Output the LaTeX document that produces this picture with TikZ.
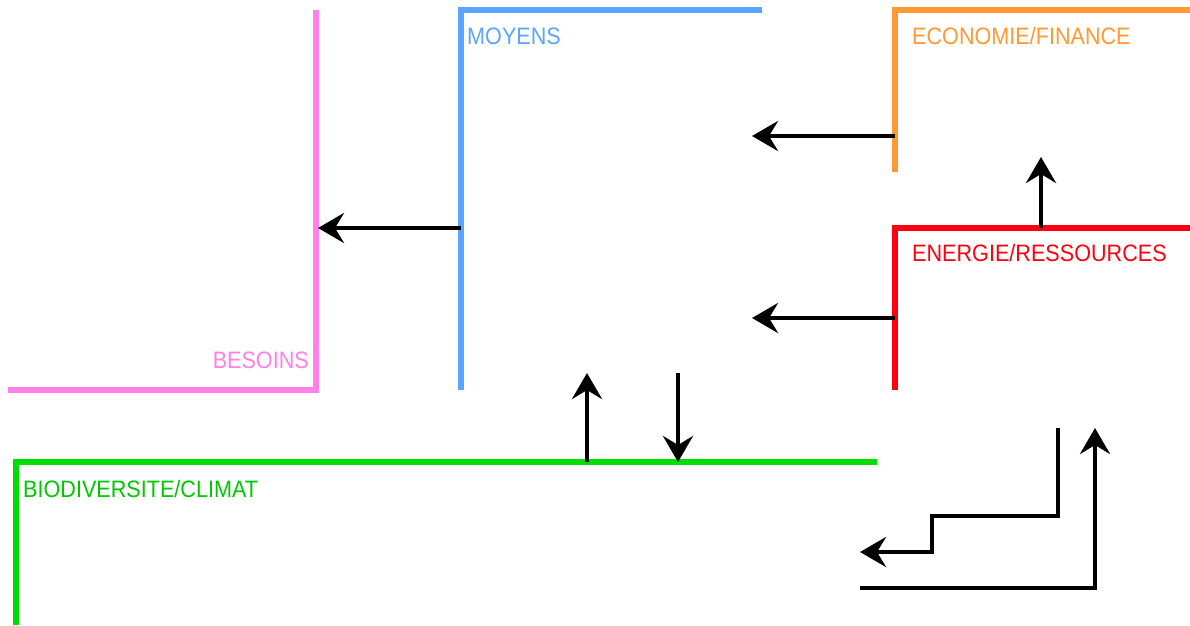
\documentclass[tikz,border=0pt]{standalone}
\usepackage{fontspec}
\setmainfont{Liberation Sans}
\usetikzlibrary{arrows.meta}
\definecolor{cpink}{HTML}{FF80E8}
\definecolor{cblue}{HTML}{5AA5FF}
\definecolor{corange}{HTML}{FF9933}
\definecolor{cred}{HTML}{FF0010}
\definecolor{cgreen}{HTML}{00DD00}
\newcommand{\tallbox}[1]{\scalebox{1}[1.1]{#1}}
\tikzset{
  bracket/.style={line width=6.5pt, line join=miter, line cap=butt},
  flow/.style={line width=4.4pt, black, line join=miter, -{Stealth[length=26pt,width=30pt,inset=9pt]}},
  lbl/.style={inner sep=0pt, font=\fontsize{21.6pt}{24pt}\selectfont}
}
\begin{document}
\begin{tikzpicture}[x=1pt,y=-1pt]
\useasboundingbox (0,0) rectangle (1190,625);
% coordinates
\coordinate (pinkTop) at (316,10);
\coordinate (pinkCorner) at (316,390);
\coordinate (pinkEnd) at (8,390);
\coordinate (blueBot) at (461,390);
\coordinate (blueCorner) at (461,10);
\coordinate (blueEnd) at (762,10);
\coordinate (orBot) at (895,172);
\coordinate (orCorner) at (895,10);
\coordinate (orEnd) at (1190,10);
\coordinate (redBot) at (895,390);
\coordinate (redCorner) at (895,228);
\coordinate (redEnd) at (1190,228);
\coordinate (grEnd) at (877,462);
\coordinate (grCorner) at (16,462);
\coordinate (grBot) at (16,625);
% brackets
\draw[bracket, cpink] (pinkTop) -- (pinkCorner) -- (pinkEnd);
\draw[bracket, cblue] (blueBot) -- (blueCorner) -- (blueEnd);
\draw[bracket, corange] (orBot) -- (orCorner) -- (orEnd);
\draw[bracket, cred] (redBot) -- (redCorner) -- (redEnd);
\draw[bracket, cgreen] (grEnd) -- (grCorner) -- (grBot);
% labels
\node[lbl, text=cblue, anchor=base west] (moyens) at (467,44.5) {\tallbox{MOYENS}};
\node[lbl, text=corange, anchor=base west] (eco) at (912,44.5) {\tallbox{ECONOMIE/FINANCE}};
\node[lbl, text=cred, anchor=base west] (ener) at (912,261.5) {\tallbox{ENERGIE/RESSOURCES}};
\node[lbl, text=cpink, anchor=base east] (besoins) at (309,368.5) {\tallbox{BESOINS}};
\node[lbl, text=cgreen!90!black, anchor=base west] (bio) at (23,497.5) {\tallbox{BIODIVERSITE/CLIMAT}};
% arrows
\coordinate (a1s) at (461,228); \coordinate (a1e) at (318,228);
\draw[flow] (a1s) -- (a1e);
\coordinate (a2s) at (895,136); \coordinate (a2e) at (752,136);
\draw[flow] (a2s) -- (a2e);
\coordinate (a3s) at (895,318); \coordinate (a3e) at (752,318);
\draw[flow] (a3s) -- (a3e);
\coordinate (a4s) at (1041,228); \coordinate (a4e) at (1041,157);
\draw[flow] (a4s) -- (a4e);
\coordinate (a5s) at (587,462); \coordinate (a5e) at (587,373);
\draw[flow] (a5s) -- (a5e);
\coordinate (a6s) at (678,373); \coordinate (a6e) at (678,462);
\draw[flow] (a6s) -- (a6e);
% stepped arrows bottom right
\coordinate (b1) at (1058,428); \coordinate (b2) at (1058,516);
\coordinate (b3) at (932,516); \coordinate (b4) at (932,552);
\coordinate (b5) at (860,552);
\draw[flow] (b1) -- (b2) -- (b3) -- (b4) -- (b5);
\coordinate (c1) at (860,588); \coordinate (c2) at (1095,588);
\coordinate (c3) at (1095,428);
\draw[flow] (c1) -- (c2) -- (c3);
\end{tikzpicture}
\end{document}
